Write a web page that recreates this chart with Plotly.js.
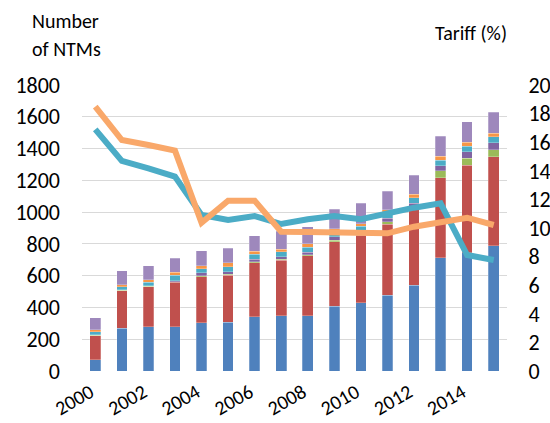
<!DOCTYPE html>
<html>
<head>
<meta charset="utf-8">
<script src="https://cdn.plot.ly/plotly-3.0.1.min.js"></script>
<style>html,body{margin:0;padding:0;background:#fff;}#chart{width:550px;height:423px;}</style>
</head>
<body>
<div id="chart"></div>
<script>
var years = [2000,2001,2002,2003,2004,2005,2006,2007,2008,2009,2010,2011,2012,2013,2014,2015];
var tickYears = [2000,2002,2004,2006,2008,2010,2012,2014];

// NTM counts by type (stacked)
var ntmA = [72,268,277,279,304,308,340,348,348,409,430,476,539,713,745,787];
var ntmB = [150,238,254,279,290,296,342,348,378,405,425,447,485,504,551,562];
var ntmC = [2,3,3,5,6,4,6,7,6,10,5,17,6,42,42,42];
var ntmD = [3,3,4,4,17,18,15,16,15,20,20,20,25,33,42,46];
var ntmE = [21,18,22,37,26,30,31,30,33,18,30,40,36,36,36,38];
var ntmF = [12,12,14,18,20,24,19,17,21,32,18,15,23,25,24,21];
var ntmG = [75,88,87,87,94,92,97,114,107,123,127,116,119,126,129,132];

// Tariff lines (%)
var tariff1 = [16.9,14.69,14.17,13.59,10.91,10.56,10.84,10.28,10.61,10.84,10.61,11.03,11.42,11.73,8.11,7.76];
var tariff2 = [18.48,16.15,15.8,15.41,10.37,11.91,11.91,9.74,9.72,9.67,9.58,9.63,10.09,10.44,10.72,10.21];

var barSeries = [
  {name:'A', y:ntmA, color:'#4F81BD'},
  {name:'B', y:ntmB, color:'#C0504D'},
  {name:'C', y:ntmC, color:'#9BBB59'},
  {name:'D', y:ntmD, color:'#8064A2'},
  {name:'E', y:ntmE, color:'#4BACC6'},
  {name:'F', y:ntmF, color:'#F79646'},
  {name:'G', y:ntmG, color:'#9E88BC'}
];

var traces = barSeries.map(function(s){
  return {type:'bar', x:years, y:s.y, name:s.name,
    marker:{color:s.color, line:{color:'rgba(255,255,255,0.5)', width:0.5}},
    hoverinfo:'skip'};
});
traces.push({type:'scatter', mode:'lines', x:years, y:tariff1, yaxis:'y2',
  line:{color:'#4BACC6', width:6}, name:'T1'});
traces.push({type:'scatter', mode:'lines', x:years, y:tariff2, yaxis:'y2',
  line:{color:'#F9A86A', width:6}, name:'T2'});

var fam = 'Carlito, Calibri, "Open Sans", sans-serif';
var tickFont = {family:fam, size:22, color:'#000'};
var xTickFont = {family:fam, size:20, color:'#000'};
var titleFont = {family:fam, size:20, color:'#000'};

var layout = {
  width:550, height:423,
  margin:{l:82, r:43, t:85, b:52},
  barmode:'stack', bargap:0.6,
  showlegend:false,
  paper_bgcolor:'#fff', plot_bgcolor:'#fff',
  font:tickFont,
  xaxis:{range:[1999.5,2015.5], tickvals:tickYears, ticktext:tickYears.map(String),
    tickangle:-30, showgrid:false, zeroline:false, showline:false, ticks:'',
    tickfont:xTickFont, ticklabelstandoff:5, ticklabelshift:-5},
  yaxis:{range:[0,1800], dtick:200, showgrid:true, gridcolor:'#D9D9D9', gridwidth:1,
    zeroline:false, showline:false, ticks:'', tickfont:tickFont, ticklabelstandoff:21},
  yaxis2:{range:[0,20], dtick:2, overlaying:'y', side:'right', showgrid:false,
    zeroline:false, showline:false, ticks:'outside', ticklen:16, tickcolor:'rgba(0,0,0,0)',
    tickfont:tickFont},
  annotations:[
    {text:'Number', xref:'paper', yref:'paper', x:-0.122, y:1.224,
     xanchor:'left', yanchor:'middle', showarrow:false, font:titleFont},
    {text:'of NTMs', xref:'paper', yref:'paper', x:-0.122, y:1.126,
     xanchor:'left', yanchor:'middle', showarrow:false, font:titleFont},
    {text:'Tariff (%)', xref:'paper', yref:'paper', x:0.826, y:1.182,
     xanchor:'left', yanchor:'middle', showarrow:false, font:titleFont}
  ]
};

Plotly.newPlot('chart', traces, layout, {displayModeBar:false, staticPlot:true});
</script>
</body>
</html>
